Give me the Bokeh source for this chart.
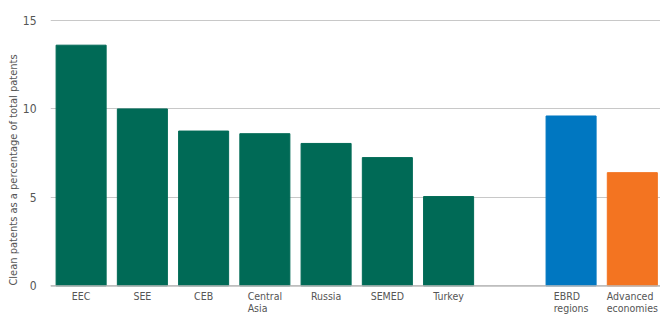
from bokeh.plotting import figure
from bokeh.models import Range1d, FixedTicker, ColumnDataSource, LabelSet, Span
from bokeh.core.properties import value
from bokeh.embed import file_html
from bokeh.resources import INLINE

categories = ["EEC", "SEE", "CEB", "Central\nAsia", "Russia", "SEMED", "Turkey", "",
              "EBRD\nregions", "Advanced\neconomies"]
values = [13.6, 10.0, 8.75, 8.6, 8.05, 7.25, 5.05, None, 9.6, 6.4]
colors = ["#006A56"] * 7 + [None, "#0077C1", "#F37421"]
y_ticks = [0, 5, 10, 15]

FONT = "DejaVu Sans Condensed"

xs, tops, cols = [], [], []
for i, (v, c) in enumerate(zip(values, colors)):
    if v is None:
        continue
    xs.append(i + 0.5)
    tops.append(v)
    cols.append(c)
src = ColumnDataSource(dict(x=xs, top=tops, color=cols))
lab_src = ColumnDataSource(dict(x=[i + 0.5 for i in range(len(categories))],
                                y=[0] * len(categories), text=categories))

p = figure(width=660, height=320, output_backend="svg", toolbar_location=None,
           x_range=Range1d(0, 9.96), y_range=Range1d(-1.95, 15.05),
           min_border_left=50, min_border_right=0, min_border_top=19, min_border_bottom=0)
p.vbar(x="x", top="top", width=0.817, color="color", source=src)

p.outline_line_color = None
p.xgrid.grid_line_color = None
p.ygrid.grid_line_color = "#C8C8C8"
p.ygrid.grid_line_width = 1
p.xaxis.visible = False

p.yaxis.ticker = FixedTicker(ticks=y_ticks)
p.yaxis.axis_line_color = None
p.yaxis.major_tick_line_color = None
p.yaxis.minor_tick_line_color = None
p.yaxis.major_label_text_font = FONT
p.yaxis.major_label_text_font_size = "12px"
p.yaxis.major_label_text_color = "#555555"
p.yaxis.major_label_standoff = 8
p.yaxis.axis_label = "Clean patents as a percentage of total patents"
p.yaxis.axis_label_text_font = FONT
p.yaxis.axis_label_text_font_size = "11px"
p.yaxis.axis_label_text_font_style = "normal"
p.yaxis.axis_label_text_color = "#555555"
p.yaxis.axis_label_standoff = 0

p.add_layout(Span(location=0, dimension="width", line_color="#BBBBBB", line_width=1.5))

labels = LabelSet(x="x", y="y", text="text", source=lab_src, y_offset=-4,
                  text_align="center", text_baseline="top", text_font=value(FONT),
                  text_font_size="10.5px", text_color="#555555", text_line_height=1.0)
p.add_layout(labels)

open("out.html", "w").write(file_html(p, INLINE))
